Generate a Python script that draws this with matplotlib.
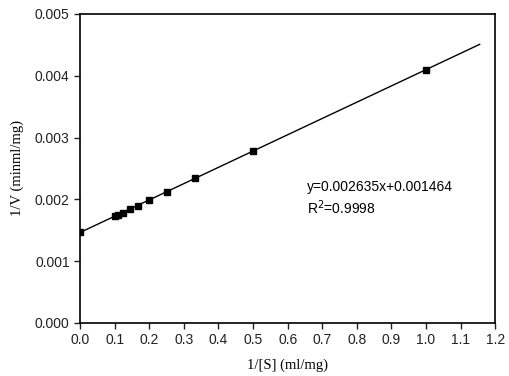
import numpy as np
import matplotlib
matplotlib.use('Agg')
from matplotlib import pyplot as plt

# Lineweaver-Burk data
inv_s = [0.0, 0.1, 0.111, 0.125, 0.143, 0.167, 0.2, 0.25, 0.333, 0.5, 1.0]
inv_v = [0.00147, 0.00173, 0.00175, 0.00178, 0.00184, 0.00190, 0.00199,
         0.00212, 0.00234, 0.00278, 0.00410]
slope = 0.002635
intercept = 0.001464
fit_x = np.array([0.0, 1.155])

xticks = [0.0, 0.1, 0.2, 0.3, 0.4, 0.5, 0.6, 0.7, 0.8, 0.9, 1.0, 1.1, 1.2]
yticks = [0.000, 0.001, 0.002, 0.003, 0.004, 0.005]

fig = plt.figure(figsize=(5.1, 3.76), dpi=100)
ax = fig.add_axes([0.157, 0.141, 0.814, 0.822])

ax.plot(fit_x, slope * fit_x + intercept, c='black', lw=1.0)
ax.plot(inv_s, inv_v, ls='none', marker='s', ms=5, c='black')

ax.set_xlim(0, 1.2)
ax.set_ylim(0, 0.005)
ax.set_xticks(xticks)
ax.set_xticklabels(['%.1f' % t for t in xticks], family='Liberation Sans', fontsize=10)
ax.set_yticks(yticks)
ax.set_yticklabels(['%.3f' % t for t in yticks], family='Liberation Sans', fontsize=10)
ax.tick_params(direction='out', length=4, width=1, colors='#222222')
for s in ax.spines.values():
    s.set_linewidth(1.2)

ax.set_xlabel('1/[S] (ml/mg)', family='Liberation Serif', fontsize=10.5, labelpad=8)
ax.set_ylabel('1/V (minml/mg)', family='Liberation Serif', fontsize=10.5, labelpad=8)

ax.text(0.655, 0.00213, 'y=0.002635x+0.001464', family='Liberation Sans', fontsize=10)
ax.text(0.655, 0.00177, r'R$^2$=0.9998', family='Liberation Sans', fontsize=10)

fig.savefig('out.png', dpi=100)
